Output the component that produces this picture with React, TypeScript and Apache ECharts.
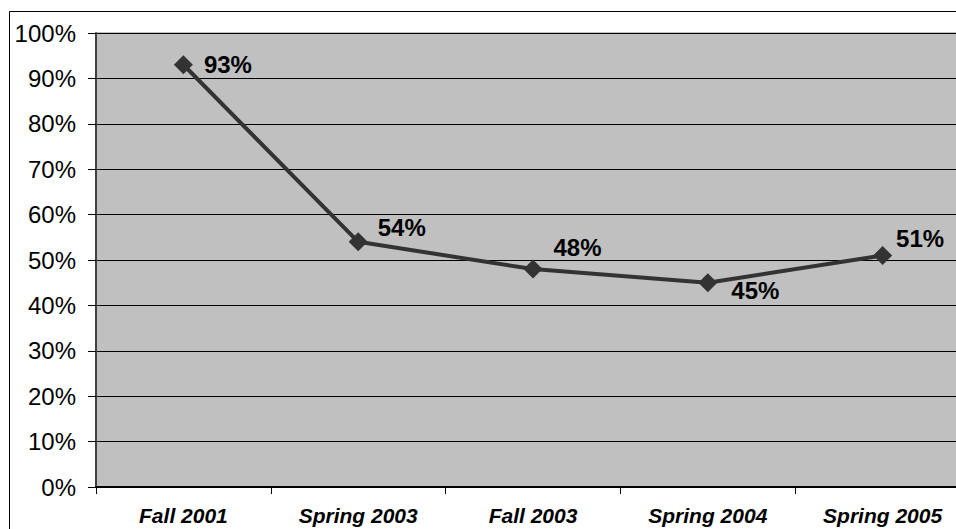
import React, { useEffect, useRef } from "react";
import * as echarts from "echarts";

const categories = ["Fall 2001", "Spring 2003", "Fall 2003", "Spring 2004", "Spring 2005"];
const values = [93, 54, 48, 45, 51];
const labelOffsets: number[][] = [[0, 0], [-1, -14], [0, -22], [3, 8], [-7, -17]];

export default function App() {
  const ref = useRef<HTMLDivElement>(null);
  useEffect(() => {
    const chart = echarts.init(ref.current!, null, { renderer: "svg" });
    chart.setOption({
      animation: false,
      backgroundColor: "#ffffff",
      graphic: [
        {
          type: "rect",
          shape: { x: 9.5, y: 11.5, width: 1100, height: 540 },
          style: { fill: "none", stroke: "#000", lineWidth: 1 },
          z: 100,
        },
      ],
      grid: {
        left: 96,
        top: 33,
        width: 874,
        bottom: 42,
        show: true,
        backgroundColor: "#C0C0C0",
        borderColor: "#808080",
        borderWidth: 1,
      },
      xAxis: {
        type: "category",
        data: categories,
        boundaryGap: true,
        axisLine: { show: true, lineStyle: { color: "#000", width: 2 } },
        axisTick: { show: true, alignWithLabel: false, length: 7, lineStyle: { color: "#000", width: 1 } },
        axisLabel: {
          color: "#000",
          fontFamily: "Liberation Sans, Arial, sans-serif",
          fontSize: 21,
          fontWeight: "bold",
          fontStyle: "italic",
          margin: 18,
        },
        splitLine: { show: false },
      },
      yAxis: {
        type: "value",
        min: 0,
        max: 100,
        interval: 10,
        axisLine: { show: true, lineStyle: { color: "#404040", width: 2 } },
        axisTick: { show: true, inside: false, length: 8, lineStyle: { color: "#000", width: 1 } },
        axisLabel: {
          formatter: "{value}%",
          color: "#000",
          fontFamily: "Liberation Sans, Arial, sans-serif",
          fontSize: 24,
          margin: 20,
        },
        splitLine: { show: true, lineStyle: { color: "#000", width: 1 } },
      },
      series: [
        {
          type: "line",
          data: values.map((v, i) => ({
            value: v,
            label: { offset: labelOffsets[i] },
          })),
          symbol: "diamond",
          symbolSize: 19,
          itemStyle: { color: "#333333" },
          lineStyle: { color: "#333333", width: 4 },
          label: {
            show: true,
            position: "right",
            distance: 11,
            formatter: "{c}%",
            color: "#000",
            fontFamily: "Liberation Sans, Arial, sans-serif",
            fontSize: 24,
            fontWeight: "bold",
          },
        },
      ],
    });
    return () => chart.dispose();
  }, []);
  return (
    <div
      style={{ position: "fixed", left: 0, top: 0, width: 956, height: 529, overflow: "hidden" }}
    >
      <div ref={ref} style={{ width: 1000, height: 529 }} />
    </div>
  );
}
